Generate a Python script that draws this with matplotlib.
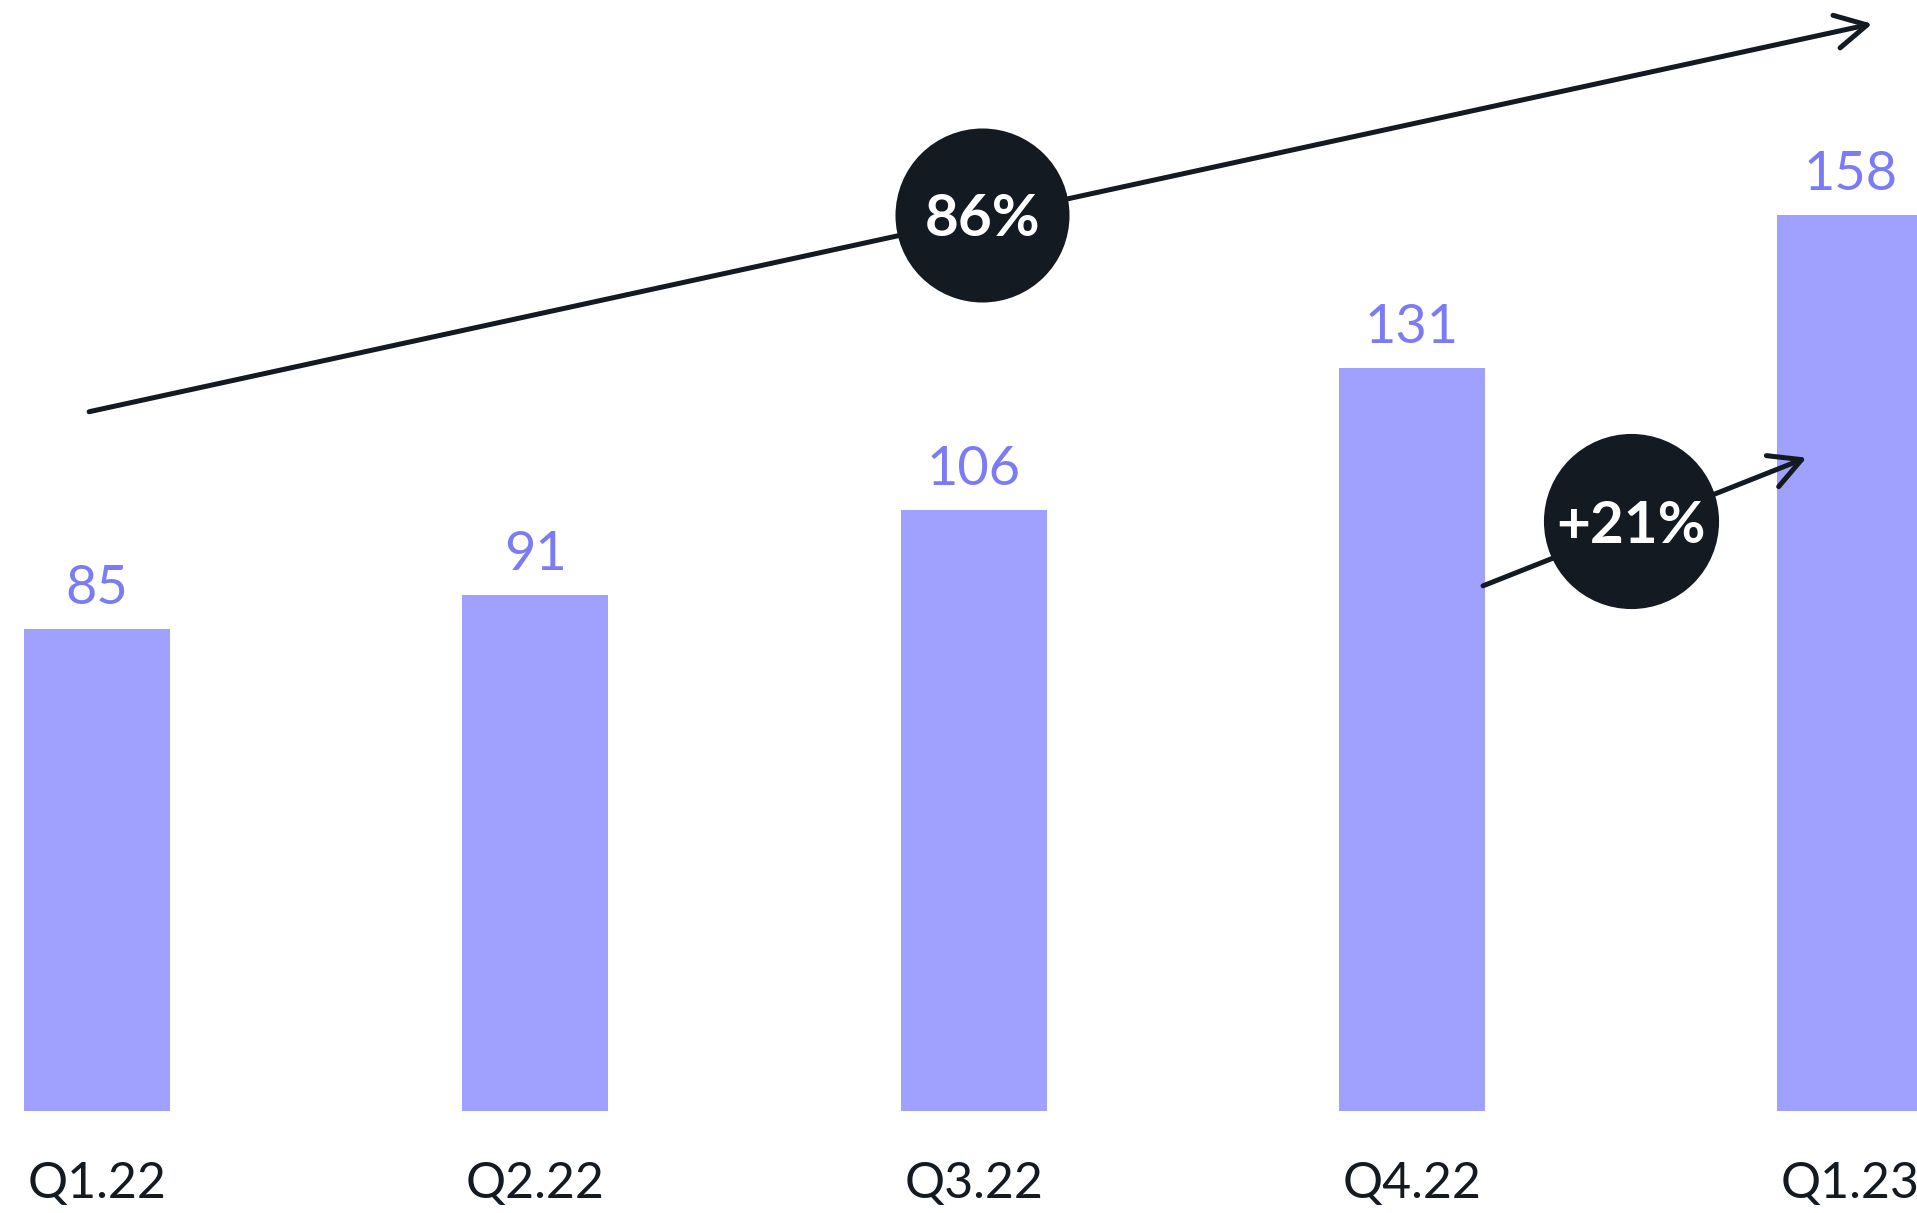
import matplotlib.pyplot as plt

# Data
quarters = ["Q1.22", "Q2.22", "Q3.22", "Q4.22", "Q1.23"]
values = [85, 91, 106, 131, 158]
total_growth = "86%"
last_growth = "+21%"

bar_color = "#a0a0ff"
label_color = "#7b7bf5"
dark = "#131a21"

plt.rcParams["font.family"] = ["Lato", "DejaVu Sans"]

fig = plt.figure(figsize=(19.17, 12.13), dpi=100)
ax = fig.add_axes([0, 0.0841, 1, 0.9159])

x = list(range(len(quarters)))
ax.bar(x, values, width=0.333, color=bar_color)

for xi, v in zip(x, values):
    ax.text(xi, v + 2.8, str(v), ha="center", va="bottom",
            fontsize=39, color=label_color)

ax.set_xlim(-0.2213, 4.152)
ax.set_ylim(0, 195.9)
ax.set_xticks(x)
ax.set_xticklabels(quarters, fontsize=36, color=dark, fontweight="normal")
ax.tick_params(axis="x", length=0, pad=36)
ax.set_yticks([])
for s in ax.spines.values():
    s.set_visible(False)

arrow = dict(arrowstyle="->,head_length=0.75,head_width=0.4", color=dark,
             lw=3.6, capstyle="round", joinstyle="round", shrinkA=0, shrinkB=0,
             mutation_scale=30)

# overall growth arrow, from above the first bar to beyond the last
ax.annotate("", xy=(4.05, values[-1] + 33.7), xytext=(-0.018, values[0] + 38.3),
            arrowprops=arrow)
ax.scatter([2.02], [values[-1]], s=15700, color=dark, zorder=5, linewidths=0)
ax.text(2.02, values[-1], total_growth, ha="center", va="center_baseline",
        fontsize=42, fontweight="bold", color="white", zorder=6)

# last-quarter growth arrow
ax.annotate("", xy=(3.90, 115.2), xytext=(3.162, 92.6), arrowprops=arrow)
ax.scatter([3.50], [104], s=15900, color=dark, zorder=5, linewidths=0)
ax.text(3.50, 104, last_growth, ha="center", va="center_baseline",
        fontsize=42, fontweight="bold", color="white", zorder=6)

fig.savefig("out.png", dpi=100)
